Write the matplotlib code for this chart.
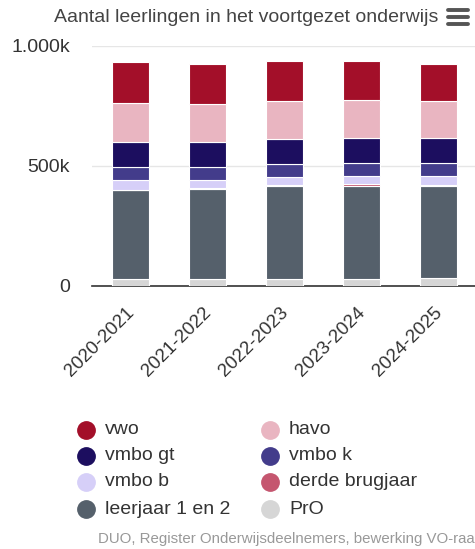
import matplotlib
matplotlib.use("Agg")
import matplotlib.pyplot as plt
import matplotlib.transforms as mtransforms
from matplotlib.lines import Line2D
import numpy as np

# schooljaren en aantallen (x 1000 leerlingen)
years = ["2020-2021", "2021-2022", "2022-2023", "2023-2024", "2024-2025"]
pro = [28, 30, 28, 28, 33]
leerjaar_1_2 = [372, 375, 390, 390, 385]
derde_brugjaar = [2, 2, 2, 7, 2]
vmbo_b = [40, 35, 35, 35, 40]
vmbo_k = [53, 53, 52, 51, 51]
vmbo_gt = [104, 104, 105, 107, 107]
havo = [165, 159, 159, 158, 153]
vwo = [168, 167, 166, 161, 155]

series = [
    ("PrO", pro, "#d6d6d6"),
    ("leerjaar 1 en 2", leerjaar_1_2, "#55606b"),
    ("derde brugjaar", derde_brugjaar, "#c5566f"),
    ("vmbo b", vmbo_b, "#d6cff8"),
    ("vmbo k", vmbo_k, "#433c8b"),
    ("vmbo gt", vmbo_gt, "#1c0e5f"),
    ("havo", havo, "#e9b5c1"),
    ("vwo", vwo, "#a30f29"),
]

plt.rcParams['font.family'] = ['Liberation Sans', 'DejaVu Sans']

fig = plt.figure(figsize=(4.75, 5.49), dpi=100)
W, H = 475, 549
ax = fig.add_axes([92 / W, (H - 286) / H, 383 / W, 240 / H])

x = np.arange(len(years))
bottom = np.zeros(len(years))
for name, vals, color in series:
    ax.bar(x, vals, width=0.48, bottom=bottom, color=color,
           edgecolor="white", linewidth=0.8, zorder=3)
    bottom += np.array(vals)

ax.set_xlim(-0.5, 4.47)
ax.set_ylim(0, 1000)
ax.set_yticks([0, 500, 1000])
ax.set_yticklabels(["0", "500k", "1.000k"])
ax.yaxis.grid(True, color="#e6e6e6", linewidth=1, zorder=0)
ax.tick_params(axis="y", length=0, pad=16, labelsize=14, labelcolor="#333333")
ax.set_xticks(x)
ax.set_xticklabels(years, rotation=45, ha="right", rotation_mode="anchor",
                   fontsize=13.5, color="#333333")
ax.tick_params(axis="x", length=0, pad=13)
shift = mtransforms.ScaledTranslation(-5 / 100, 0, fig.dpi_scale_trans)
for lbl in ax.get_xticklabels():
    lbl.set_transform(lbl.get_transform() + shift)
for s in ["top", "right", "left"]:
    ax.spines[s].set_visible(False)
ax.spines["bottom"].set_color("#333333")
ax.spines["bottom"].set_linewidth(1.2)

fig.text(246 / W, 1 - 17 / H, "Aantal leerlingen in het voortgezet onderwijs",
         ha="center", va="center", fontsize=14, color="#444444")

# menu-icoon
for yy in [10, 17, 24]:
    fig.add_artist(Line2D([448 / W, 468 / W], [1 - yy / H, 1 - yy / H],
                          color="#555555", linewidth=2.8, solid_capstyle="round"))

# legenda
lookup = {name: color for name, vals, color in series}
order = ["vwo", "havo", "vmbo gt", "vmbo k", "vmbo b", "derde brugjaar",
         "leerjaar 1 en 2", "PrO"]
rows = [430, 456, 482, 509]
for i, name in enumerate(order):
    col = i % 2
    row = i // 2
    xm = [86, 270][col]
    yy = 1 - rows[row] / H
    fig.add_artist(Line2D([xm / W], [yy], marker="o", markersize=12.5,
                          color=lookup[name], linestyle="none"))
    fig.text((xm + 19) / W, yy, name, ha="left", va="center",
             fontsize=14, color="#333333")

fig.text(98 / W, 1 - 539 / H, "DUO, Register Onderwijsdeelnemers, bewerking VO-raad",
         ha="left", va="center", fontsize=10.8, color="#999999")

fig.savefig("out.png", dpi=100)
